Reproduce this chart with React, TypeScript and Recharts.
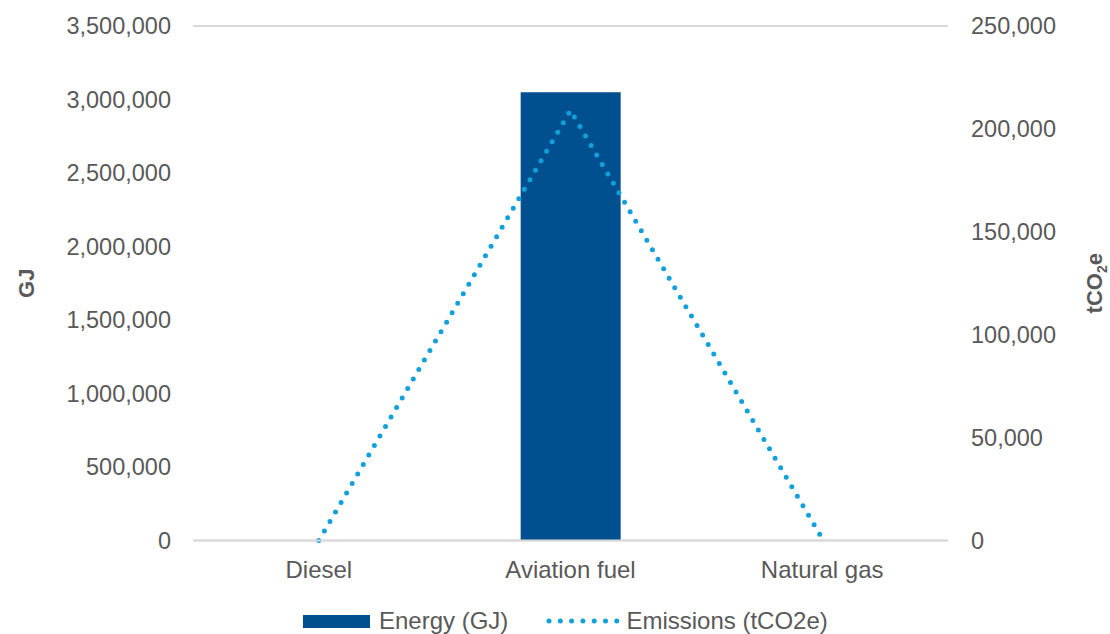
import { ComposedChart, Bar, Line, XAxis, YAxis, CartesianGrid, Legend } from 'recharts';

const fuels = ['Diesel', 'Aviation fuel', 'Natural gas'];
const energyGJ = [0, 3050000, 0];
const emissionsT = [0, 209000, 1000];
const leftTicks = [0, 500000, 1000000, 1500000, 2000000, 2500000, 3000000, 3500000];
const rightTicks = [0, 50000, 100000, 150000, 200000, 250000];

const BAR_BLUE = '#00508f';
const LINE_BLUE = '#12a0dc';
const TEXT = '#595959';
const GRID = '#d9d9d9';
const FONT = '"Liberation Sans", Arial, sans-serif';

const data = fuels.map((name, i) => ({ name, energy: energyGJ[i], emissions: emissionsT[i] }));

const fmt = (v: number) => v.toLocaleString('en-US');

function LeftTitle({ viewBox }: any) {
  const cy = viewBox.y + viewBox.height / 2;
  return (
    <text x={34} y={cy} transform={`rotate(-90 34 ${cy})`} textAnchor="middle" fill={TEXT}
      fontSize={22} fontWeight="bold" fontFamily={FONT}>
      GJ
    </text>
  );
}

function RightTitle({ viewBox }: any) {
  const cy = viewBox.y + viewBox.height / 2;
  const x = 1102;
  return (
    <text x={x} y={cy} transform={`rotate(-90 ${x} ${cy})`} textAnchor="middle" fill={TEXT}
      fontSize={22} fontWeight="bold" fontFamily={FONT}>
      tCO<tspan fontSize={14} dy={5}>2</tspan><tspan dy={-5}>e</tspan>
    </text>
  );
}

function ChartLegend() {
  return (
    <div style={{ display: 'flex', alignItems: 'center', marginLeft: 303, paddingTop: 14,
      fontFamily: FONT, fontSize: 24, color: TEXT, lineHeight: '26px' }}>
      <span style={{ display: 'inline-block', width: 67, height: 13, background: BAR_BLUE }} />
      <span style={{ marginLeft: 9 }}>Energy (GJ)</span>
      <svg width={76} height={14} style={{ marginLeft: 38 }}>
        <line x1={3} y1={7} x2={72} y2={7} stroke={LINE_BLUE} strokeWidth={5}
          strokeDasharray="0 11.3" strokeLinecap="round" />
      </svg>
      <span style={{ marginLeft: 4 }}>Emissions (tCO2e)</span>
    </div>
  );
}

export default function App() {
  return (
    <div style={{ position: 'absolute', left: 0, top: 0, width: 1110, height: 634, background: '#fff' }}>
      <ComposedChart width={1110} height={634} data={data}
        margin={{ top: 26, right: 0, bottom: 0, left: 0 }}>
        <CartesianGrid vertical={false} stroke={GRID} strokeWidth={2} />
        <XAxis dataKey="name" height={53.5} axisLine={{ stroke: GRID, strokeWidth: 2 }} tickLine={false}
          tickSize={0} tickMargin={20}
          tick={{ fontSize: 24, fill: TEXT, fontFamily: FONT }} />
        <YAxis yAxisId="left" width={193} domain={[0, 3500000]} ticks={leftTicks}
          tickFormatter={fmt} axisLine={false} tickLine={false} tickSize={0} tickMargin={22}
          tick={{ fontSize: 23.5, fill: TEXT, fontFamily: FONT }}
          label={<LeftTitle />} />
        <YAxis yAxisId="right" orientation="right" width={162} domain={[0, 250000]} ticks={rightTicks}
          tickFormatter={fmt} axisLine={false} tickLine={false} tickSize={0} tickMargin={23}
          tick={{ fontSize: 23.5, fill: TEXT, fontFamily: FONT, textAnchor: 'start' }}
          label={<RightTitle />} />
        <Legend verticalAlign="bottom" height={40} content={<ChartLegend />} />
        <Bar yAxisId="left" dataKey="energy" name="Energy (GJ)" fill={BAR_BLUE} barSize={100}
          isAnimationActive={false} />
        <Line yAxisId="right" type="linear" dataKey="emissions" name="Emissions (tCO2e)"
          stroke={LINE_BLUE} strokeWidth={5} strokeDasharray="0 11" strokeLinecap="round"
          dot={false} activeDot={false} isAnimationActive={false} />
      </ComposedChart>
    </div>
  );
}
